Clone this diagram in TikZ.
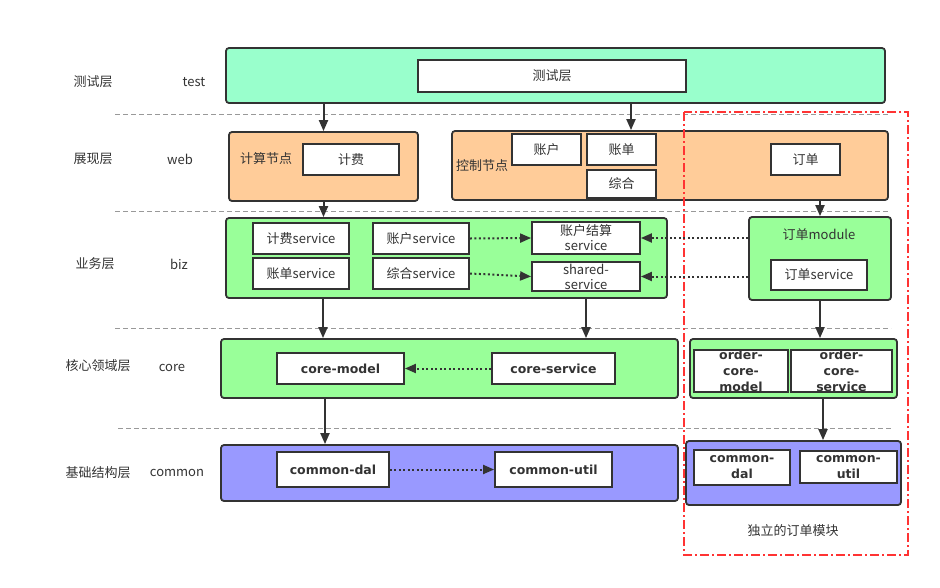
\documentclass[tikz,border=0pt]{standalone}
\usepackage{fontspec}
\setmainfont{Noto Sans CJK SC}
\newfontfamily\latbold{DejaVu Sans}
\usepackage{tikz}
\usetikzlibrary{arrows.meta}
\definecolor{ink}{HTML}{333333}
\definecolor{testgreen}{HTML}{99FFCC}
\definecolor{weborange}{HTML}{FFCC99}
\definecolor{bizgreen}{HTML}{99FF99}
\definecolor{basepurple}{HTML}{9999FF}
\definecolor{framered}{HTML}{FF3333}
\tikzstyle{every node}=[text=ink,font=\fontsize{13}{15}\selectfont]
\tikzstyle{layer}=[draw=ink,line width=1.8pt,rounded corners=3pt,inner sep=0pt]
\tikzstyle{mod}=[draw=ink,line width=1.8pt,fill=white,inner sep=0pt,align=center]
\tikzstyle{boldmod}=[mod,font=\latbold\bfseries\fontsize{12.5}{16}\selectfont]
\tikzstyle{dep}=[draw=ink,line width=2pt,-{Triangle[length=11pt,width=9pt]}]
\tikzstyle{use}=[dep,dash pattern=on 2pt off 2.5pt]
\tikzstyle{sep}=[draw=gray!80,line width=0.8pt,dash pattern=on 5pt off 3pt]

\begin{document}
\begin{tikzpicture}[x=1pt,y=-1pt]
  \useasboundingbox (0,0) rectangle (940,587);
  % layer names
  \node (lTest) at (93,82) {测试层};   \node (nTest) at (194,82) {test};
  \node (lWeb) at (93,159) {展现层};   \node (nWeb) at (180,159) {web};
  \node (lBiz) at (95,264) {业务层};   \node (nBiz) at (179,264) {biz};
  \node (lCore) at (98,366) {核心领域层}; \node (nCore) at (172,368) {core};
  \node (lBase) at (98,473) {基础结构层}; \node (nBase) at (177,473) {common};
  % separators
  \draw[sep] (115,114) -- (888,114);
  \draw[sep] (115,211) -- (888,211);
  \draw[sep] (115,328) -- (891,328);
  \draw[sep] (118,428) -- (891,428);
  % test
  \node[layer,fill=testgreen,minimum width=659pt,minimum height=55pt] (test) at (555.5,75.5) {};
  \node[mod,minimum width=268pt,minimum height=32pt] (T1) at (552,76) {测试层};
  % web
  \node[layer,fill=weborange,minimum width=189pt,minimum height=69pt] (calc) at (323.5,166.5) {};
  \node (calcL) at (266,159) {计算节点};
  \node[mod,minimum width=96pt,minimum height=31pt] (W1) at (351,159.5) {计费};
  \node[layer,fill=weborange,minimum width=436pt,minimum height=69pt] (ctrl) at (670,165.5) {};
  \node (ctrlL) at (482,166) {控制节点};
  \node[mod,minimum width=69pt,minimum height=31pt] (W2) at (546.5,149.5) {账户};
  \node[mod,minimum width=69pt,minimum height=31pt] (W3) at (621.5,149.5) {账单};
  \node[mod,minimum width=69pt,minimum height=28pt] (W4) at (621.5,184) {综合};
  \node[mod,minimum width=69pt,minimum height=31pt] (W5) at (805.5,159.5) {订单};
  % biz
  \node[layer,fill=bizgreen,minimum width=441pt,minimum height=80pt] (biz) at (446.5,258) {};
  \node[mod,minimum width=96pt,minimum height=31pt] (B1) at (301,238.5) {计费service};
  \node[mod,minimum width=96pt,minimum height=31pt] (B2) at (301,273.5) {账单service};
  \node[mod,minimum width=96pt,minimum height=31pt] (B3) at (421,238.5) {账户service};
  \node[mod,minimum width=96pt,minimum height=31pt] (B4) at (421,273.5) {综合service};
  \node[mod,minimum width=108pt,minimum height=32pt] (B5) at (586,238) {账户结算\\service};
  \node[mod,minimum width=108pt,minimum height=29pt] (B6) at (586,276.5) {shared-\\service};
  \node[layer,fill=bizgreen,minimum width=142pt,minimum height=83pt] (ordmod) at (820,258.5) {};
  \node (ordmodL) at (819,235) {订单module};
  \node[mod,minimum width=96pt,minimum height=30pt] (B7) at (819,275) {订单service};
  % core
  \node[layer,fill=bizgreen,minimum width=457pt,minimum height=59pt] (core) at (449.5,368.5) {};
  \node[boldmod,minimum width=127pt,minimum height=31pt] (C1) at (340.5,368.5) {core-model};
  \node[boldmod,minimum width=123pt,minimum height=31pt] (C2) at (553.5,368.5) {core-service};
  \node[layer,fill=bizgreen,minimum width=207pt,minimum height=59pt] (ordcore) at (793.5,368.5) {};
  \node[boldmod,minimum width=94pt,minimum height=40pt] (C3) at (741,371) {order-\\core-\\model};
  \node[boldmod,minimum width=101pt,minimum height=40pt] (C4) at (841.5,371) {order-\\core-\\service};
  % common
  \node[layer,fill=basepurple,minimum width=457pt,minimum height=56pt] (base) at (449.5,473) {};
  \node[boldmod,minimum width=112pt,minimum height=35pt] (D1) at (333,469.5) {common-dal};
  \node[boldmod,minimum width=117pt,minimum height=35pt] (D2) at (553.5,469.5) {common-util};
  \node[layer,fill=basepurple,minimum width=215pt,minimum height=64pt] (ordbase) at (793.5,473) {};
  \node[boldmod,minimum width=96pt,minimum height=35pt] (D3) at (742,467.5) {common-\\dal};
  \node[boldmod,minimum width=97pt,minimum height=32pt] (D4) at (848.5,467) {common-\\util};
  \node (ordL) at (793,531) {独立的订单模块};
  % order module frame
  \draw[framered,line width=1.5pt,dash pattern=on 9pt off 3pt on 2pt off 3pt] (684,112) rectangle (908,555);
  % dependencies
  \draw[dep] (test.south -| calc.north) -- (calc.north);
  \draw[dep] (test.south -| 631,0) -- (ctrl.north -| 631,0);
  \draw[dep] (calc.south) -- (biz.north -| calc.south);
  \draw[dep] (ctrl.south -| ordmod.north) -- (ordmod.north);
  \draw[dep] (biz.south -| 323,0) -- (core.north -| 323,0);
  \draw[dep] (biz.south -| B6.south) -- (core.north -| B6.south);
  \draw[dep] (ordmod.south) -- (ordcore.north -| ordmod.south);
  \draw[dep] (core.south -| 325,0) -- (base.north -| 325,0);
  \draw[dep] (ordcore.south -| 823,0) -- (ordbase.north -| 823,0);
  % uses
  \draw[use] (B3.east) -- (B5.west);
  \draw[use] (B4.east) -- (B6.west);
  \draw[use] (ordmod.west |- B5.east) -- (B5.east);
  \draw[use] (ordmod.west |- B6.east) -- (B6.east);
  \draw[use] (C2.west) -- (C1.east);
  \draw[use] (D1.east) -- (D2.west);
\end{tikzpicture}
\end{document}
